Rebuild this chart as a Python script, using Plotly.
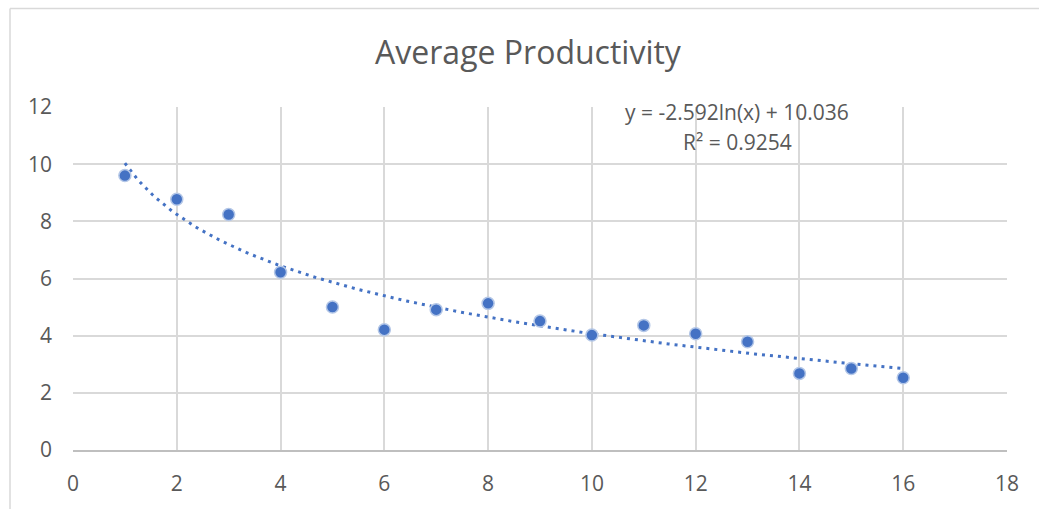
import numpy as np
import plotly.graph_objects as go

x_values = [1, 2, 3, 4, 5, 6, 7, 8, 9, 10, 11, 12, 13, 14, 15, 16]
productivity = [9.6, 8.77, 8.24, 6.22, 5.0, 4.21, 4.91, 5.13, 4.51, 4.02, 4.36, 4.07, 3.79, 2.68, 2.85, 2.53]
trend_slope = -2.592
trend_intercept = 10.036
trend_label = ["y = -2.592ln(x) + 10.036", "R² = 0.9254"]
x_ticks = [0, 2, 4, 6, 8, 10, 12, 14, 16, 18]
y_ticks = [0, 2, 4, 6, 8, 10, 12]
title_text = "Average Productivity"

W, H = 1039, 509
L, R, T, B = 73, 1007, 107, 452

trend_x = np.linspace(min(x_values), max(x_values), 200)
trend_y = trend_slope * np.log(trend_x) + trend_intercept

fig = go.Figure()
fig.add_trace(go.Scatter(
    x=trend_x, y=trend_y, mode="lines",
    line=dict(color="#4472c4", width=3, dash="3px,5px"),
    hoverinfo="skip", showlegend=False,
))
fig.add_trace(go.Scatter(
    x=x_values, y=productivity, mode="markers",
    marker=dict(color="#4472c4", size=12, line=dict(color="#b4c7e7", width=1.5)),
    showlegend=False,
))

font_family = "Open Sans"
fig.update_layout(
    width=W, height=H,
    margin=dict(l=L, r=W - R, t=T, b=H - B, pad=0),
    paper_bgcolor="white", plot_bgcolor="white",
    title=dict(text=title_text, x=528 / W, xanchor="center",
               y=1 - 53 / H, yanchor="middle", yref="container",
               font=dict(family=font_family, size=32, color="#595959")),
    xaxis=dict(range=[0, 18], tickvals=x_ticks, showgrid=True, gridcolor="#d9d9d9", gridwidth=1.5,
               zeroline=False, showline=True, linecolor="#bfbfbf", linewidth=1.5,
               ticks="", ticklabelstandoff=14,
               tickfont=dict(family=font_family, size=21, color="#595959")),
    yaxis=dict(range=[0, 12], tickvals=y_ticks, showgrid=True, gridcolor="#d9d9d9", gridwidth=1.5,
               zeroline=False, showline=False,
               ticks="", ticklabelstandoff=20,
               tickfont=dict(family=font_family, size=21, color="#595959")),
)

pw, ph = R - L, B - T
bx = (10 - L) / pw
by = 1 + (T - 8) / ph
fig.add_shape(type="line", xref="paper", yref="paper", x0=bx, x1=bx, y0=by, y1=-0.5,
              line=dict(color="#d9d9d9", width=1.5))
fig.add_shape(type="line", xref="paper", yref="paper", x0=bx, x1=1.2, y0=by, y1=by,
              line=dict(color="#d9d9d9", width=1.5))

fig.add_annotation(xref="paper", yref="paper", x=(737 - L) / pw, y=1 - (112 - T) / ph,
                   text=trend_label[0], showarrow=False, xanchor="center", yanchor="middle",
                   font=dict(family=font_family, size=21, color="#595959"))
fig.add_annotation(xref="paper", yref="paper", x=(737 - L) / pw, y=1 - (142 - T) / ph,
                   text=trend_label[1], showarrow=False, xanchor="center", yanchor="middle",
                   font=dict(family=font_family, size=21, color="#595959"))

fig.write_html("out.html")
